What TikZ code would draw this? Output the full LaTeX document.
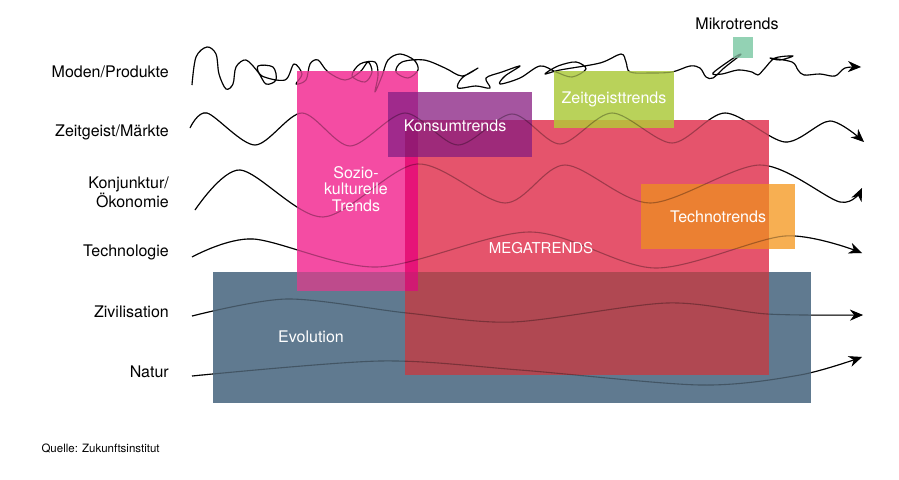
\documentclass[tikz,border=0pt]{standalone}
\usepackage{fontspec}
\setmainfont{TeX Gyre Heros}
\usetikzlibrary{arrows.meta}

\definecolor{evocol}{HTML}{607A90}
\definecolor{megacol}{HTML}{E5546C}
\definecolor{soziocol}{HTML}{F44CA3}
\definecolor{konsumcol}{HTML}{A555A0}
\definecolor{zeitcol}{HTML}{B9D25A}
\definecolor{technocol}{HTML}{F7AF52}
\definecolor{mikrocol}{HTML}{93D2B4}
% overlaps
\definecolor{megaevo}{HTML}{B04852}
\definecolor{sozioevo}{HTML}{BE4B8C}
\definecolor{soziomega}{HTML}{E61478}
\definecolor{allthree}{HTML}{D01A72}
\definecolor{konsumsozio}{HTML}{A02A8C}
\definecolor{konsummega}{HTML}{9E2A7A}
\definecolor{konsumstrip}{HTML}{961973}
\definecolor{zeitmega}{HTML}{BDB440}
\definecolor{technomega}{HTML}{EB8032}

% the six trend lines, drawn twice
\newcommand{\trendlines}[1]{%
  \draw[#1] plot[smooth, tension=0.55] coordinates {(192,85) (196,57) (207,47) (216,54) (219,74) (226,89) (233,84) (236,67) (246,60) (258,72) (266,84) (276,80) (273,67) (258,66) (262,76) (285,80) (294,64) (302,74) (296,84) (306,80) (310,64) (318,60) (328,72) (345,80) (360,72) (368,62) (372,72) (365,82) (352,76) (360,64) (375,62) (378,75) (375,92) (382,76) (388,60) (400,54) (414,60) (418,70) (408,78) (396,72) (402,62) (424,60) (445,68) (462,76) (478,68) (462,78) (458,88) (476,86) (490,88) (486,78) (502,72) (520,66) (505,76) (500,84) (520,78) (540,66) (556,72) (572,77) (586,69) (576,62) (558,66) (545,74) (560,70) (600,63) (621,54) (626,62) (630,72) (650,73) (672,72) (690,66) (700,68) (706,77) (713,78) (724,68) (738,57) (741,54) (735,57) (713,73) (722,74) (738,70) (752,72) (758,75) (765,68) (775,58) (793,56) (780,60) (770,58) (792,62) (798,70) (804,75) (820,74) (835,76) (845,68) (861,67)};
  \draw[#1] plot[smooth] coordinates {(190,128) (207,113) (255,145) (302,113) (350,146) (405,113) (458,145) (512,114) (560,144) (612,113) (672,143) (725,113) (785,142) (830,121) (864,142)};
  \draw[#1] plot[smooth] coordinates {(195,210) (240,170) (323,217) (417,164) (505,203) (565,165) (650,203) (760,165) (840,202) (862,188)};
  \draw[#1] plot[smooth] coordinates {(192,257) (253,239) (377,267) (530,232) (655,268) (785,236) (862,253)};
  \draw[#1] plot[smooth] coordinates {(192,316) (287,299) (407,313) (513,322) (667,303) (767,314) (863,315)};
  \draw[#1] plot[smooth] coordinates {(192,376) (380,361) (520,370) (700,385) (800,375) (862,357)};
}

\begin{document}
\begin{tikzpicture}[x=1pt, y=-1pt,
    wave/.style={line width=1.1pt, line join=round, -{Stealth[length=13pt,width=11pt]}},
    lbl/.style={anchor=east, inner sep=0pt, align=right, font=\fontsize{16}{17}\selectfont},
    boxtxt/.style={text=white, align=center, font=\fontsize{16}{16.5}\selectfont}]
    \useasboundingbox (0,0) rectangle (899,479);

    \trendlines{wave}

    % boxes
    \fill[evocol] (213,272) rectangle (811,403);
    \fill[megacol] (405,120) rectangle (769,375);
    \fill[soziocol] (297,71) rectangle (418,291);
    \fill[megaevo] (418,272) rectangle (769,375);
    \fill[megaevo] (405,291) rectangle (418,375);
    \fill[sozioevo] (297,272) rectangle (405,291);
    \fill[soziomega] (405,120) rectangle (418,272);
    \fill[allthree] (405,272) rectangle (418,291);
    \fill[konsumcol] (418,92) rectangle (532,120);
    \fill[konsumsozio] (388,92) rectangle (418,120);
    \fill[konsumsozio] (388,120) rectangle (405,157);
    \fill[konsumstrip] (405,120) rectangle (418,157);
    \fill[konsummega] (418,120) rectangle (532,157);
    \fill[zeitcol] (554,71) rectangle (674,120);
    \fill[zeitmega] (554,120) rectangle (674,128);
    \fill[technomega] (641,184) rectangle (769,249);
    \fill[technocol] (769,184) rectangle (795,249);
    \fill[mikrocol] (733,37) rectangle (753,58);

    % lines show faintly through the boxes
    \trendlines{wave, draw opacity=0.3}

    % row labels
    \node[lbl] (moden) at (169,72) {Moden/Produkte};
    \node[lbl] (markt) at (169,132) {Zeitgeist/Märkte};
    \node[lbl] (konjunktur) at (169,192) {Konjunktur/\\Ökonomie};
    \node[lbl] (technik) at (169,252) {Technologie};
    \node[lbl] (zivil) at (169,312) {Zivilisation};
    \node[lbl] (natur) at (169,372) {Natur};

    % box labels
    \node[boxtxt, text=black] (mikro) at (737,24) {Mikrotrends};
    \node[boxtxt] (zeitgeist) at (614,99) {Zeitgeisttrends};
    \node[boxtxt] (konsum) at (455,126) {Konsumtrends};
    \node[boxtxt] (sozio) at (356,189) {Sozio-\\kulturelle\\Trends};
    \node[boxtxt, font=\fontsize{15}{16}\selectfont] (mega) at (541,248) {MEGATRENDS};
    \node[boxtxt] (techno) at (718,217) {Technotrends};
    \node[boxtxt] (evolution) at (311,337) {Evolution};

    \node[anchor=west, font=\fontsize{11.5}{13}\selectfont] (quelle) at (38,449) {Quelle: Zukunftsinstitut};
\end{tikzpicture}
\end{document}
